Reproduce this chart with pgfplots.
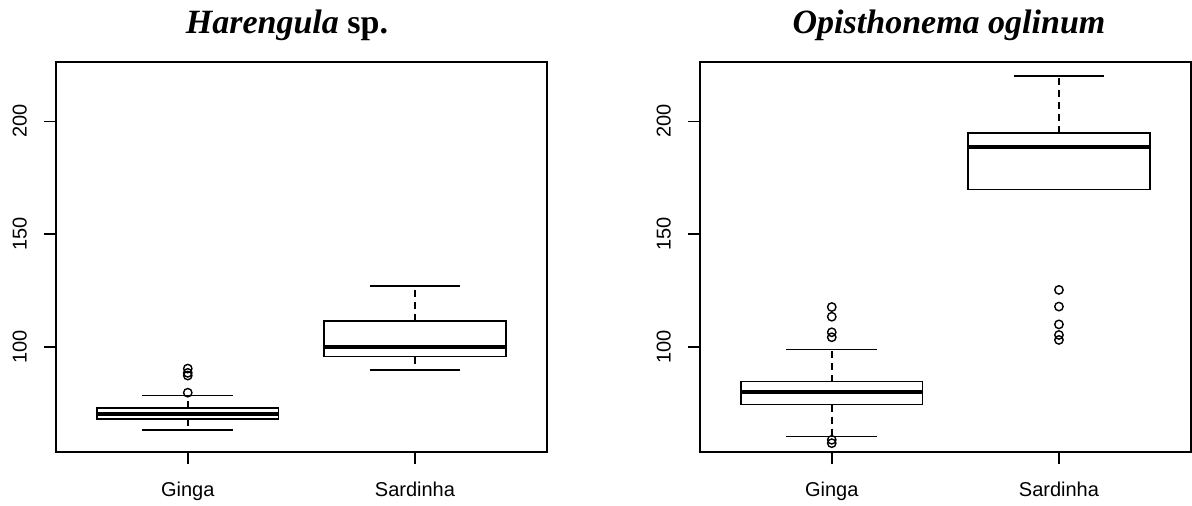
\documentclass[border=0pt]{standalone}
\usepackage{fontspec}
\setmainfont{Liberation Sans}
\newfontfamily\tnr{Liberation Serif}
\usepackage{pgfplots}
\pgfplotsset{compat=1.18}
\usepgfplotslibrary{statistics}
\pgfplotsset{
  rpanel/.style={
    anchor=south west,
    scale only axis, width=245.35pt, height=195pt,
    xmin=0.42, xmax=2.58, ymin=53.15, ymax=226.18,
    xtick={1,2}, xticklabels={Ginga,Sardinha},
    ytick={100,150,200},
    tick align=outside, tick pos=left,
    major tick length=6pt,
    axis line style={line width=0.85pt},
    every tick/.style={black, line width=0.8pt},
    tick label style={font=\fontsize{10}{12}\selectfont},
    /pgf/number format/assume math mode=true,
    yticklabel style={rotate=90, anchor=south},
    xticklabel shift=5.5pt,
    yticklabel shift=5pt,
    clip=false,
  },
  rbox/.style={
    black, line width=0.8pt, solid,
    mark=o, mark size=2.1pt, mark options={solid, black, line width=0.7pt},
    boxplot/draw direction=y,
    boxplot/box extend=0.8,
    boxplot/whisker extend=0.4,
    boxplot/every box/.style={draw=black, fill=white, line width=0.8pt},
    boxplot/every median/.style={line width=2pt},
    boxplot/draw/lower whisker/.code={%
      \draw[dash pattern=on 3.5pt off 2.5pt, line width=0.8pt]
        (boxplot cs:\pgfplotsboxplotvalue{lower quartile}) --
        (boxplot cs:\pgfplotsboxplotvalue{lower whisker});
      \draw[line width=0.8pt]
        (boxplot whisker cs:\pgfplotsboxplotvalue{lower whisker},0) --
        (boxplot whisker cs:\pgfplotsboxplotvalue{lower whisker},1);
    },
    boxplot/draw/upper whisker/.code={%
      \draw[dash pattern=on 3.5pt off 2.5pt, line width=0.8pt]
        (boxplot cs:\pgfplotsboxplotvalue{upper quartile}) --
        (boxplot cs:\pgfplotsboxplotvalue{upper whisker});
      \draw[line width=0.8pt]
        (boxplot whisker cs:\pgfplotsboxplotvalue{upper whisker},0) --
        (boxplot whisker cs:\pgfplotsboxplotvalue{upper whisker},1);
    },
  },
}
\begin{document}
\begin{tikzpicture}
\useasboundingbox (0,0) rectangle (596pt,252.5pt);
% Left panel: Harengula sp.
\begin{axis}[rpanel, at={(28pt,26.35pt)}]
\addplot[rbox, boxplot prepared={draw position=1,
  lower whisker=63.0, lower quartile=67.9, median=70.1,
  upper quartile=72.7, upper whisker=78.4}]
  coordinates {(0,79.6) (0,87.2) (0,88.4) (0,90.3)};
\addplot[rbox, boxplot prepared={draw position=2,
  lower whisker=89.8, lower quartile=95.6, median=100.0,
  upper quartile=111.4, upper whisker=126.9}]
  coordinates {};
\end{axis}
% Right panel: Opisthonema oglinum
\begin{axis}[rpanel, at={(350pt,26.35pt)}]
\addplot[rbox, boxplot prepared={draw position=1,
  lower whisker=60.1, lower quartile=74.3, median=80.0,
  upper quartile=84.5, upper whisker=98.8}]
  coordinates {(0,57.2) (0,58.7) (0,104.2) (0,106.4) (0,113.3) (0,117.6)};
\addplot[rbox, boxplot prepared={draw position=2,
  lower whisker=169.8, lower quartile=169.8, median=188.6,
  upper quartile=194.9, upper whisker=220.1}]
  coordinates {(0,103.0) (0,105.2) (0,109.9) (0,117.8) (0,125.2)};
\end{axis}
\node[anchor=base, font=\tnr\fontsize{17}{20}\selectfont\bfseries, inner sep=0pt]
  at (143.5pt,235.75pt) {\itshape Harengula\/\upshape\ sp.};
\node[anchor=base, font=\tnr\fontsize{17}{20}\selectfont\bfseries\itshape, inner sep=0pt]
  at (474.5pt,235.75pt) {Opisthonema oglinum};
\end{tikzpicture}
\end{document}
